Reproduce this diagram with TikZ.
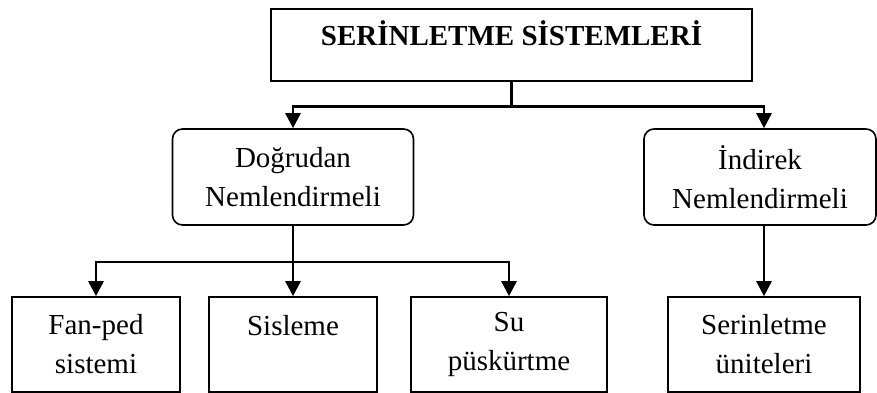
\documentclass[tikz,border=0pt]{standalone}
\usepackage{fontspec}
\setmainfont{Liberation Serif}
\usetikzlibrary{arrows.meta,calc}
\begin{document}
\begin{tikzpicture}[x=1pt,y=-1pt,
  box/.style={draw, line width=1.6pt, inner sep=0pt, align=center, font=\fontsize{29}{39}\selectfont},
  rbox/.style={box, rounded corners=10pt},
  conn/.style={line width=2.6pt},
  arr/.style={conn, -{Triangle[width=15pt,length=15pt]}}]
\useasboundingbox (0,0) rectangle (877,393);
% boxes
\node[box, minimum width=481pt, minimum height=72pt, text height=25pt, text depth=23pt,
      font=\fontsize{29}{39}\selectfont\bfseries] (top) at (511.5,45) {SERİNLETME SİSTEMLERİ};
\node[rbox, minimum width=241pt, minimum height=96pt] (dog) at (293,177) {Doğrudan\\Nemlendirmeli};
\node[rbox, minimum width=232pt, minimum height=96pt] (ind) at (760,177) {İndirek\\Nemlendirmeli};
\node[box, minimum width=168pt, minimum height=95pt] (fan) at (96,344.5) {Fan-ped\\sistemi};
\node[box, minimum width=168pt, minimum height=95pt] (sis) at (293,344.5) {Sisleme\\\mbox{}};
\node[box, minimum width=196pt, minimum height=95pt] (su) at (509,344.5) {Su\\püskürtme};
\node[box, minimum width=192pt, minimum height=95pt] (ser) at (764,344.5) {Serinletme\\üniteleri};
% connectors
\coordinate (j1) at ($(top.south)+(0,25)$);
\draw[conn] (top.south) -- (j1);
\draw[arr] (j1) -| (dog.north);
\draw[arr] (j1) -| (ind.north -| ser.north);
\draw[arr] (ind.south -| ser.north) -- (ser.north);
\coordinate (j2) at ($(dog.south)+(0,36)$);
\draw[conn] (dog.south) -- (j2);
\draw[arr] (j2) -| (fan.north);
\draw[arr] (j2) -- (sis.north);
\draw[arr] (j2) -| (su.north);
\end{tikzpicture}
\end{document}
